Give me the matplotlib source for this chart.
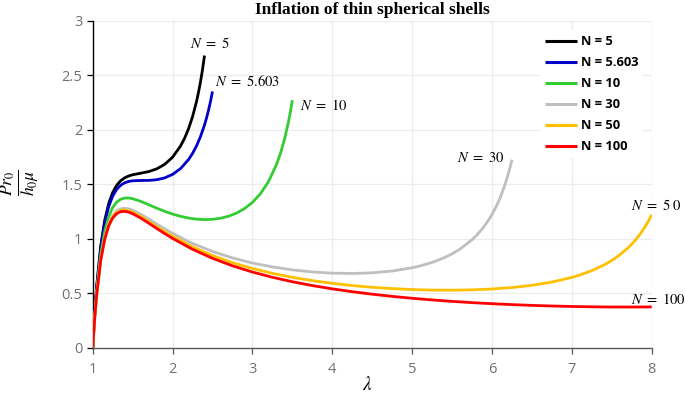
import matplotlib
matplotlib.use("Agg")
import matplotlib.pyplot as plt

plt.rcParams['mathtext.fontset'] = 'stix'

# ---- data ----
lam_n5 = [1.0, 1.025, 1.05, 1.1, 1.15, 1.2, 1.25, 1.3, 1.35, 1.4, 1.45, 1.5, 1.6, 1.7, 1.8,
          1.9, 2.0, 2.1, 2.15, 2.2, 2.25, 2.3, 2.325, 2.35, 2.375, 2.4]
p_n5 = [0.0, 0.3136, 0.5649, 0.9296, 1.1669, 1.3220, 1.4232, 1.4889, 1.5311, 1.5579, 1.5750,
        1.5860, 1.6003, 1.6151, 1.6396, 1.6808, 1.7470, 1.8497, 1.9201, 2.0078, 2.1179,
        2.2579, 2.3424, 2.4390, 2.5502, 2.6792]

lam_n5603 = [1.0, 1.025, 1.05, 1.1, 1.15, 1.2, 1.25, 1.3, 1.35, 1.4, 1.45, 1.5, 1.6, 1.7, 1.8,
             1.9, 2.0, 2.1, 2.2, 2.25, 2.3, 2.35, 2.4, 2.425, 2.45, 2.475, 2.5]
p_n5603 = [0.0, 0.3077, 0.5542, 0.9114, 1.1430, 1.2933, 1.3901, 1.4516, 1.4897, 1.5122, 1.5247,
           1.5308, 1.5337, 1.5343, 1.5404, 1.5571, 1.5893, 1.6426, 1.7253, 1.7815, 1.8506,
           1.9362, 2.0428, 2.1060, 2.1772, 2.2580, 2.3499]

lam_n10 = [1.0, 1.025, 1.05, 1.1, 1.15, 1.2, 1.25, 1.3, 1.35, 1.4, 1.45, 1.5, 1.6, 1.7, 1.8,
           1.9, 2.0, 2.1, 2.2, 2.3, 2.4, 2.5, 2.6, 2.7, 2.8, 2.9, 3.0, 3.1, 3.2, 3.3, 3.35,
           3.4, 3.45, 3.475, 3.5]
p_n10 = [0.0, 0.2887, 0.5196, 0.8528, 1.0663, 1.2018, 1.2857, 1.3352, 1.3616, 1.3725, 1.3731,
         1.3668, 1.3426, 1.3118, 1.2803, 1.2510, 1.2256, 1.2048, 1.1891, 1.1790, 1.1749,
         1.1774, 1.1873, 1.2057, 1.2343, 1.2754, 1.3326, 1.4117, 1.5212, 1.6768, 1.7798,
         1.9067, 2.0657, 2.1610, 2.2697]

lam_n30 = [1.0, 1.025, 1.05, 1.1, 1.15, 1.2, 1.25, 1.3, 1.35, 1.4, 1.45, 1.5, 1.6, 1.7, 1.8,
           1.9, 2.0, 2.2, 2.25, 2.5, 2.75, 3.0, 3.25, 3.5, 3.75, 4.0, 4.25, 4.5, 4.75, 5.0,
           5.1, 5.25, 5.4, 5.5, 5.6, 5.75, 5.8, 5.85, 5.9, 5.95, 6.0, 6.05, 6.1, 6.15, 6.2,
           6.225, 6.25]
p_n30 = [0.0, 0.2749, 0.4946, 0.8108, 1.0116, 1.1372, 1.2127, 1.2549, 1.2745, 1.2791, 1.2734,
         1.2609, 1.2243, 1.1805, 1.1351, 1.0909, 1.0490, 0.9738, 0.9569, 0.8826, 0.8235,
         0.7768, 0.7407, 0.7136, 0.6947, 0.6838, 0.6809, 0.6868, 0.7033, 0.7333, 0.7502,
         0.7824, 0.8249, 0.8608, 0.9046, 0.9901, 1.0256, 1.0657, 1.1110, 1.1627, 1.2223,
         1.2912, 1.3720, 1.4677, 1.5828, 1.6495, 1.7236]

lam_n50 = [1.0, 1.025, 1.05, 1.1, 1.15, 1.2, 1.25, 1.3, 1.35, 1.4, 1.45, 1.5, 1.6, 1.7, 1.8,
           1.9, 2.0, 2.25, 2.5, 2.75, 3.0, 3.25, 3.5, 3.75, 4.0, 4.25, 4.5, 4.75, 5.0, 5.25,
           5.5, 5.75, 6.0, 6.25, 6.5, 6.75, 7.0, 7.1, 7.25, 7.4, 7.5, 7.6, 7.7, 7.75, 7.8,
           7.85, 7.9, 7.95, 8.0]
p_n50 = [0.0, 0.2724, 0.4900, 0.8031, 1.0017, 1.1254, 1.1996, 1.2405, 1.2590, 1.2625, 1.2559,
         1.2425, 1.2040, 1.1585, 1.1114, 1.0654, 1.0217, 0.9248, 0.8451, 0.7799, 0.7263,
         0.6821, 0.6455, 0.6152, 0.5903, 0.5700, 0.5540, 0.5418, 0.5333, 0.5285, 0.5275,
         0.5306, 0.5385, 0.5519, 0.5723, 0.6020, 0.6447, 0.6667, 0.7067, 0.7577, 0.8000,
         0.8509, 0.9132, 0.9498, 0.9909, 1.0372, 1.0898, 1.1501, 1.2197]

lam_n100 = [1.0, 1.025, 1.05, 1.1, 1.15, 1.2, 1.25, 1.3, 1.35, 1.4, 1.45, 1.5, 1.6, 1.7, 1.8,
            1.9, 2.0, 2.25, 2.5, 2.75, 3.0, 3.25, 3.5, 3.75, 4.0, 4.25, 4.5, 4.75, 5.0, 5.25,
            5.5, 5.75, 6.0, 6.25, 6.5, 6.75, 7.0, 7.25, 7.5, 7.75, 8.0]
p_n100 = [0.0, 0.2705, 0.4867, 0.7974, 0.9944, 1.1169, 1.1899, 1.2300, 1.2477, 1.2505, 1.2432,
          1.2292, 1.1895, 1.1428, 1.0945, 1.0474, 1.0025, 0.9027, 0.8199, 0.7513, 0.6941,
          0.6459, 0.6050, 0.5699, 0.5397, 0.5135, 0.4906, 0.4707, 0.4533, 0.4381, 0.4249,
          0.4134, 0.4035, 0.3951, 0.3881, 0.3825, 0.3781, 0.3751, 0.3733, 0.3730, 0.3740]

series_labels = ["N = 5", "N = 5.603", "N = 10", "N = 30", "N = 50", "N = 100"]
series_colors = ["#000000", "#0000C8", "#33CC33", "#BFBFBF", "#FFC000", "#FF0000"]
curve_notes = [r"$N\ =\ 5$", r"$N\ =\ 5.603$", r"$N\ =\ 10$", r"$N\ =\ 30$",
               r"$N\ =\ 5\;0$", r"$N\ =\ 100$"]

x_ticks = [1, 2, 3, 4, 5, 6, 7, 8]
y_ticks = [0, 0.5, 1, 1.5, 2, 2.5, 3]
y_tick_labels = ["0", "0.5", "1", "1.5", "2", "2.5", "3"]

W, H = 685, 400
fig = plt.figure(figsize=(W / 100, H / 100), dpi=100)
ax = fig.add_axes([92.7 / W, 1 - 347.7 / H, (651.7 - 92.7) / W, (347.7 - 20.6) / H])

xs = [lam_n5, lam_n5603, lam_n10, lam_n30, lam_n50, lam_n100]
ys = [p_n5, p_n5603, p_n10, p_n30, p_n50, p_n100]
for x, y, c, lab in zip(xs, ys, series_colors, series_labels):
    ax.plot(x, y, color=c, lw=2.0, label=lab, solid_capstyle='butt',
            solid_joinstyle='round', zorder=3)

ax.set_xlim(1, 8)
ax.set_ylim(0, 3)
ax.set_xticks(x_ticks)
ax.set_yticks(y_ticks)
ax.set_yticklabels(y_tick_labels)
ax.grid(True, color='#ececec', lw=0.9)
ax.set_axisbelow(True)
for s in ['top', 'right']:
    ax.spines[s].set_visible(False)
ax.spines['left'].set_color('black')
ax.spines['left'].set_linewidth(1.0)
ax.spines['bottom'].set_color('#595959')
ax.spines['bottom'].set_linewidth(1.0)
ax.tick_params(axis='y', direction='out', length=4, width=0.9, color='black',
               labelcolor='#707070', labelsize=10.5, pad=3.5)
ax.tick_params(axis='x', direction='out', length=4, width=0.9, color='#595959',
               labelcolor='#707070', labelsize=10.5, pad=6)
for lbl in ax.get_xticklabels() + ax.get_yticklabels():
    lbl.set_fontfamily('Open Sans')

# title
fig.text(372 / W, 1 - 10 / H, "Inflation of thin spherical shells", ha='center', va='center',
         fontsize=12.5, fontweight='bold', family='Liberation Serif')
# axis labels
fig.text(367 / W, 1 - 385 / H, r"$\lambda$", ha='center', va='center', fontsize=14)
fig.text(21 / W, 1 - 183 / H, r"$\frac{P r_0}{h_0 \mu}$", ha='center', va='center',
         fontsize=18, rotation=90)

# curve annotations
note_pos = [(209.5, 44), (247.5, 81.5), (324, 106), (481, 157.5), (656.7, 206), (658.5, 299)]
for txt, (px, py) in zip(curve_notes, note_pos):
    fig.text(px / W, 1 - py / H, txt, ha='center', va='center', fontsize=10.5)

leg = ax.legend(loc='upper left', bbox_to_anchor=(540 / W, 1 - 30 / H),
                bbox_transform=fig.transFigure, frameon=True, fancybox=False,
                borderaxespad=0, borderpad=0.4, handlelength=2.5, handletextpad=0.25,
                labelspacing=0.62, prop={'family': 'Open Sans', 'weight': 'bold', 'size': 9.3})
leg.get_frame().set_edgecolor('none')
leg.get_frame().set_facecolor('white')
leg.get_frame().set_alpha(1)
for line in leg.get_lines():
    line.set_linewidth(2.2)

fig.savefig("out.png", dpi=100)
